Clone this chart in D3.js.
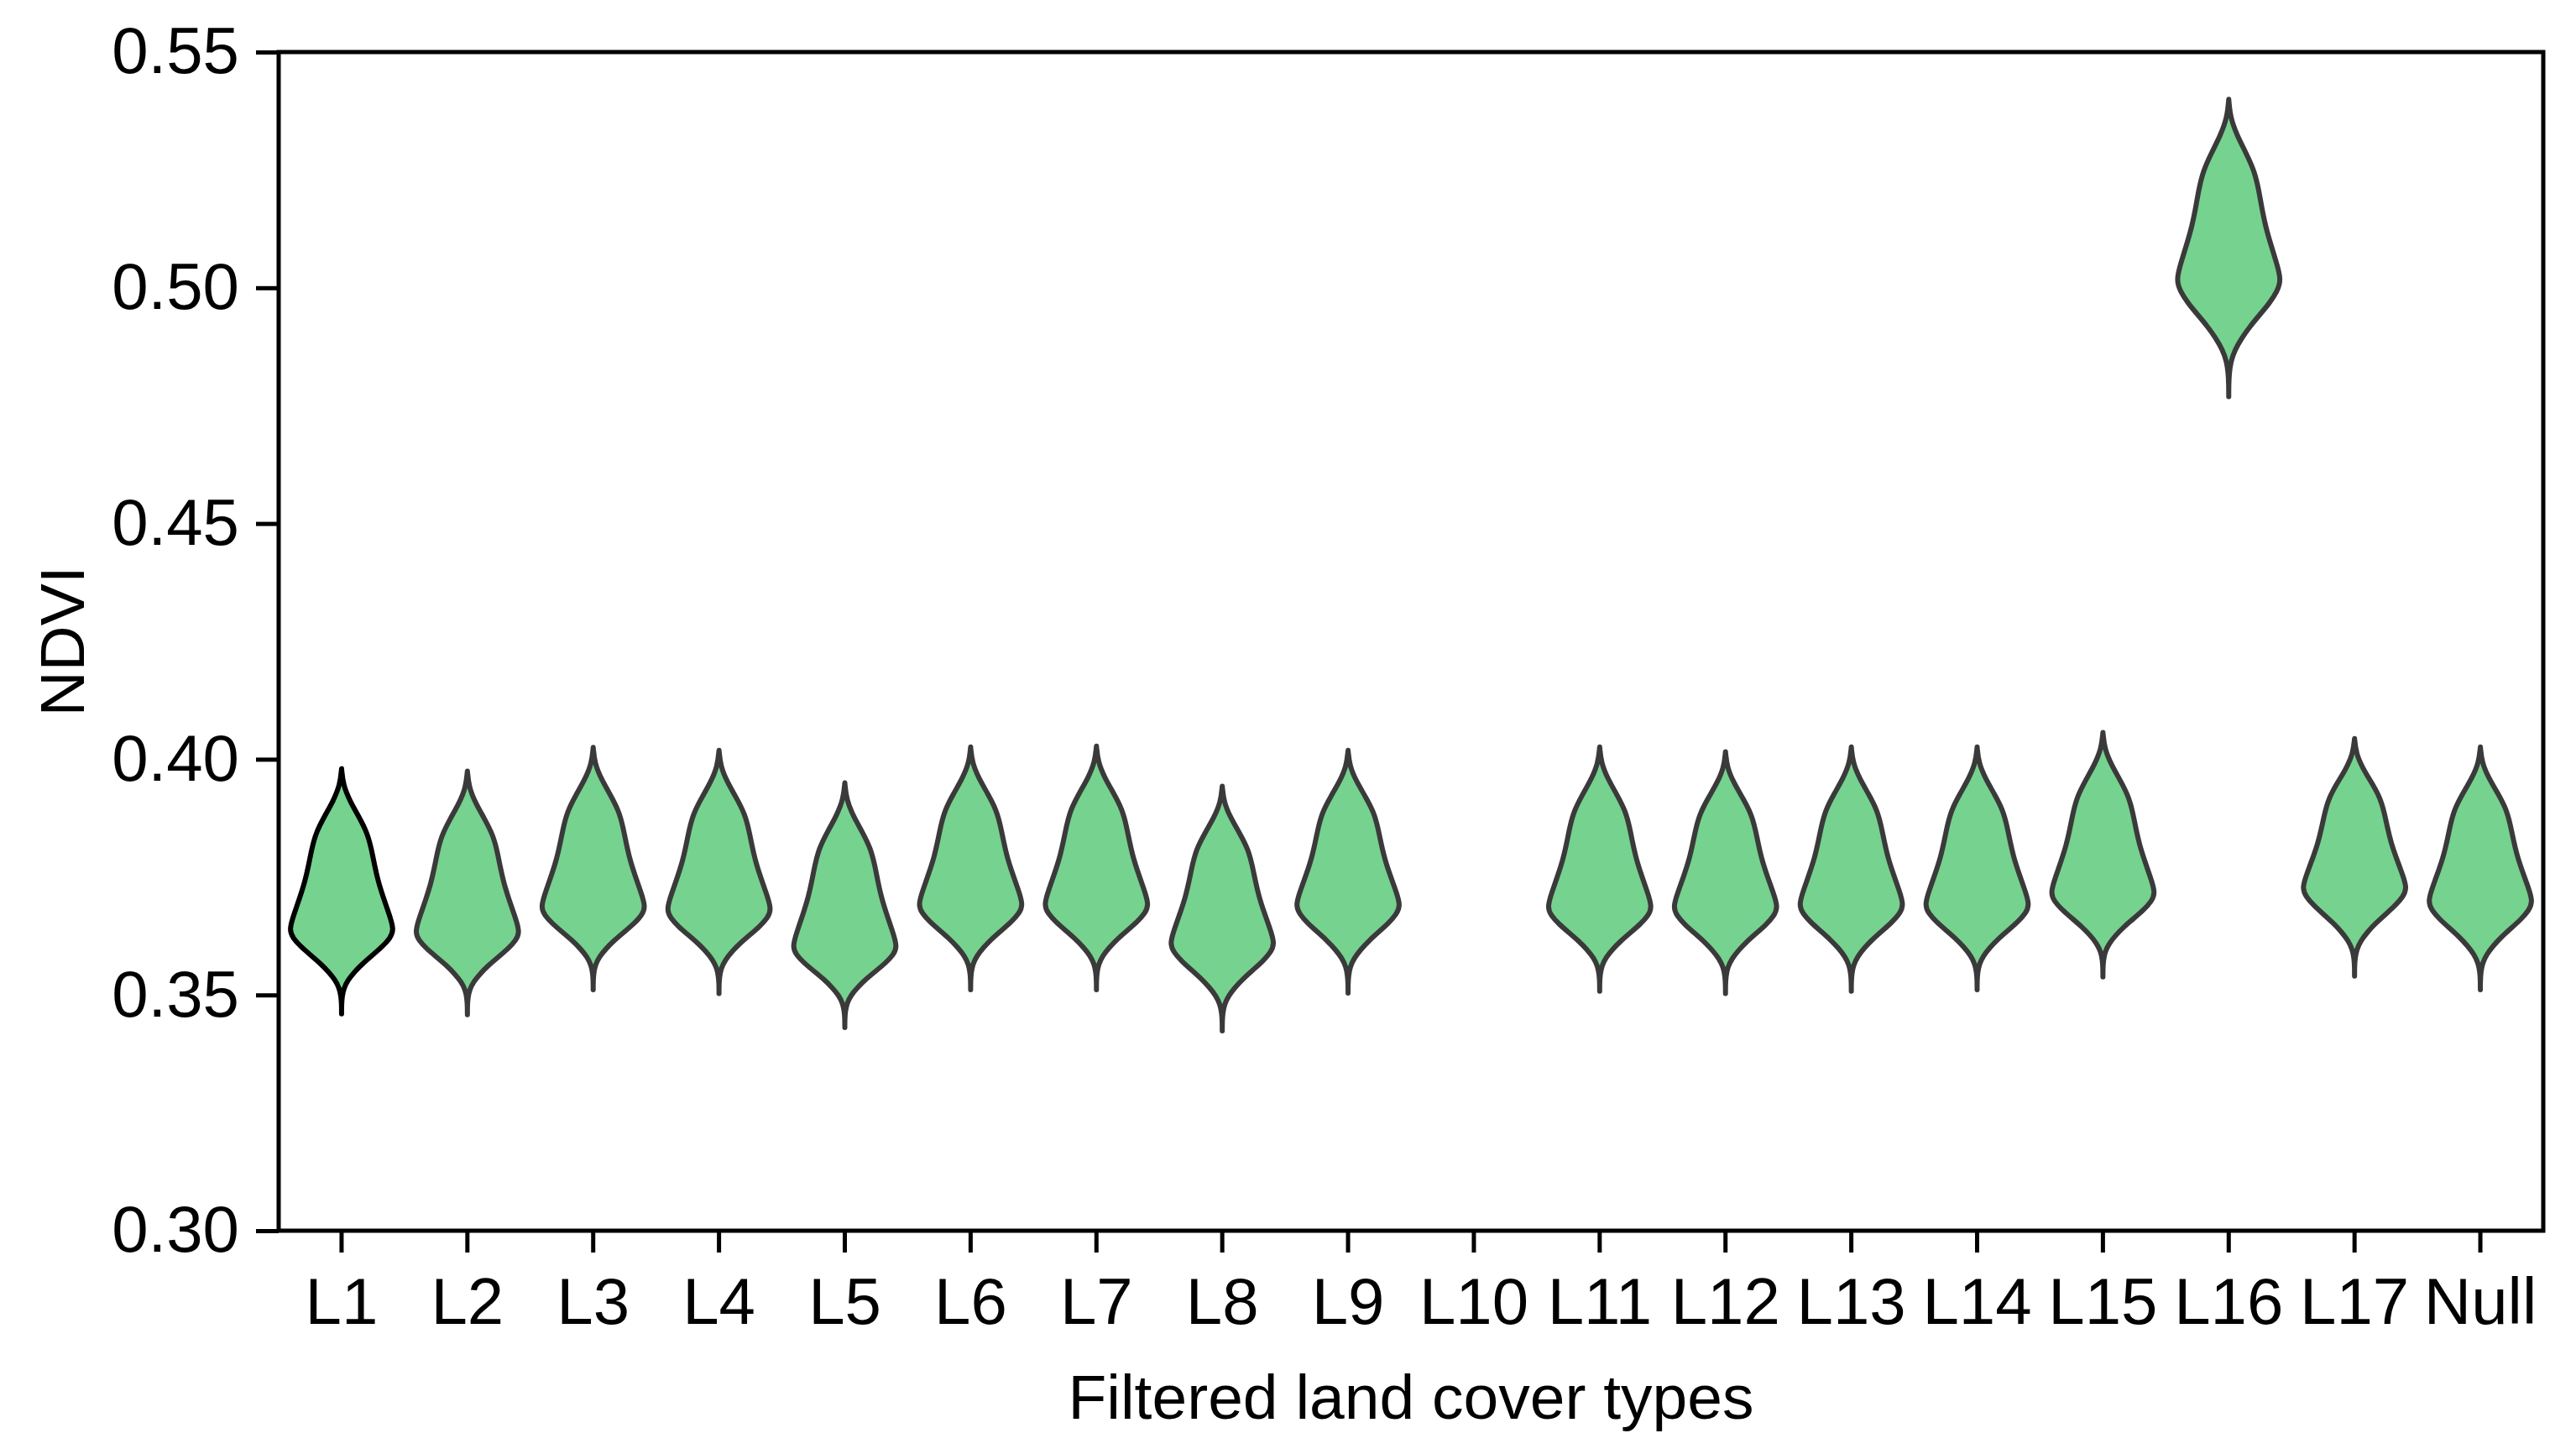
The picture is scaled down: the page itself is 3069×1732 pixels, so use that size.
<!DOCTYPE html>
<html>
<head>
<meta charset="utf-8">
<script src="https://cdn.jsdelivr.net/npm/d3@7"></script>
<style>
  html, body { margin: 0; padding: 0; background: #ffffff; }
  svg { display: block; }
  text { font-family: "Liberation Sans", Arial, Helvetica, sans-serif; fill: #000; }
</style>
</head>
<body>
<svg id="chart" width="3069" height="1732"></svg>
<script>
// ---------- data ----------
const categories = ["L1","L2","L3","L4","L5","L6","L7","L8","L9","L10","L11","L12","L13","L14","L15","L16","L17","Null"];
// top tip (max), widest point (mode), bottom tip (min) of each violin; L10 has no data
const vMax  = [0.3980,0.3975,0.4025,0.4019,0.3950,0.4026,0.4028,0.3943,0.4019,null,0.4026,0.4016,0.4026,0.4026,0.4057,0.5400,0.4044,0.4026];
const vMode = [0.3638,0.3633,0.3686,0.3681,0.3602,0.3691,0.3691,0.3609,0.3690,null,0.3686,0.3686,0.3691,0.3691,0.3716,0.5017,0.3727,0.3698];
const vMin  = [0.3460,0.3458,0.3511,0.3503,0.3431,0.3511,0.3511,0.3424,0.3504,null,0.3508,0.3503,0.3508,0.3511,0.3538,0.4769,0.3540,0.3511];
// violin outline profile: relative position (-1 = bottom tip, 0 = widest point, 1 = top tip) and relative half-width
const profilePos   = [-1.0,-0.9,-0.8,-0.7,-0.6,-0.5,-0.4,-0.3,-0.2,-0.1,0.0,0.1,0.2,0.3,0.4,0.5,0.6,0.7,0.8,0.9,1.0];
const profileWidth = [0.00,0.00,0.01,0.04,0.12,0.25,0.41,0.60,0.79,0.94,1.02,0.92,0.81,0.71,0.64,0.58,0.50,0.34,0.16,0.03,0.00];
const yTicks = [0.30,0.35,0.40,0.45,0.50,0.55];
const xTitle = "Filtered land cover types";
const yTitle = "NDVI";

// ---------- layout ----------
const m = { left: 332, right: 3030, top: 62, bottom: 1466 };
const svg = d3.select("#chart");

const x = d3.scaleBand().domain(categories).range([m.left, m.right]).padding(0);
const y = d3.scaleLinear().domain([0.30, 0.55]).range([m.bottom, m.top]);
const w = d3.scaleLinear().domain([0, 1]).range([0, x.bandwidth() * 0.41]);

// ---------- violins ----------
const violins = categories.map((c, i) => {
  if (vMax[i] == null) return null;
  const pts = profilePos.map((u, k) => ({
    v: u >= 0 ? vMode[i] + u * (vMax[i] - vMode[i]) : vMode[i] + u * (vMode[i] - vMin[i]),
    d: profileWidth[k]
  }));
  return { cat: c, idx: i, pts };
}).filter(d => d);

const area = d3.area()
  .curve(d3.curveBasis)
  .y(d => y(d.v));

const gV = svg.append("g");
violins.forEach(vd => {
  const cx = x(vd.cat) + x.bandwidth() / 2;
  gV.append("path")
    .datum(vd.pts)
    .attr("d", area.x0(d => cx - w(d.d)).x1(d => cx + w(d.d)))
    .attr("fill", "#76d28f")
    .attr("stroke", vd.idx === 0 ? "#000000" : "#3a3a3a")
    .attr("stroke-width", 6)
    .attr("stroke-linejoin", "round");
});

// ---------- axes ----------
const xAxis = d3.axisBottom(x).tickSize(26).tickPadding(30).tickSizeOuter(0);
const yAxis = d3.axisLeft(y).tickValues(yTicks).tickFormat(d3.format(".2f")).tickSize(27).tickPadding(20).tickSizeOuter(0);

const gx = svg.append("g").attr("transform", `translate(0,${m.bottom})`).call(xAxis);
const gy = svg.append("g").attr("transform", `translate(${m.left},0)`).call(yAxis);

[gx, gy].forEach(g => {
  g.select(".domain").remove();
  g.selectAll(".tick line").attr("stroke", "#000").attr("stroke-width", 5);
  g.selectAll(".tick text").attr("font-size", 78).attr("fill", "#000")
    .style("font-family", "'Liberation Sans', Arial, sans-serif");
});

// frame
svg.append("rect")
  .attr("x", m.left).attr("y", m.top)
  .attr("width", m.right - m.left).attr("height", m.bottom - m.top)
  .attr("fill", "none").attr("stroke", "#000").attr("stroke-width", 5);

// titles
svg.append("text")
  .attr("x", (m.left + m.right) / 2).attr("y", 1690)
  .attr("text-anchor", "middle").attr("font-size", 75)
  .text(xTitle);

svg.append("text")
  .attr("transform", `translate(100,${(m.top + m.bottom) / 2}) rotate(-90)`)
  .attr("text-anchor", "middle").attr("font-size", 75)
  .text(yTitle);
</script>
</body>
</html>
